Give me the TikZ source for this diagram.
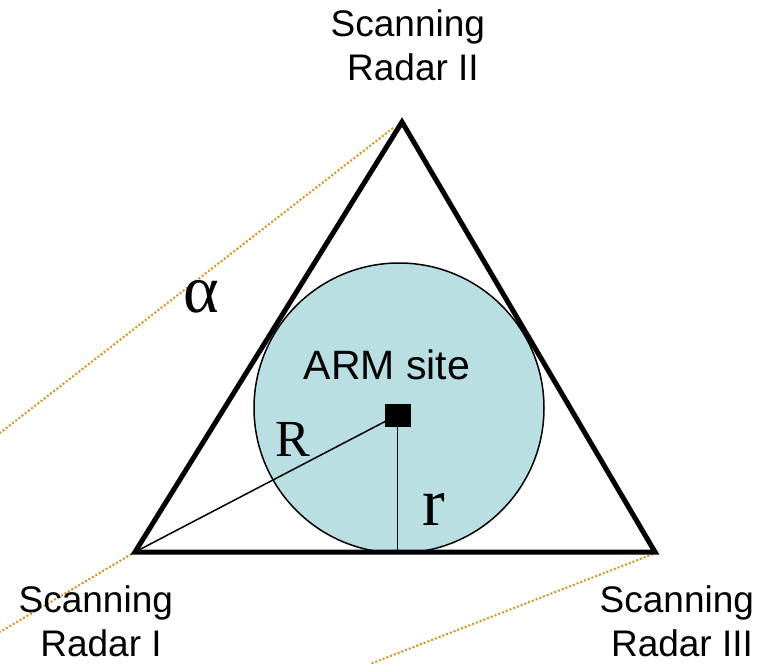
\documentclass[tikz,border=0pt]{standalone}
\usepackage{fontspec}
\setmainfont{Liberation Sans}
\newfontfamily\serifgreek{Liberation Serif}
\definecolor{sitefill}{RGB}{186,223,227}
\definecolor{beamorange}{RGB}{218,146,28}
\begin{document}
\begin{tikzpicture}[x=1pt,y=-1pt,
  radarlabel/.style={inner sep=0pt,anchor=north,align=center,font=\fontsize{37}{44}\selectfont},
  triedge/.style={line width=5pt,line join=miter},
  thinline/.style={line width=1.5pt},
  beam/.style={beamorange,line width=2pt,dash pattern=on 2pt off 2pt},
  serifsym/.style={inner sep=0pt,anchor=base,font=\serifgreek\fontsize{#1}{#1}\selectfont}]
\useasboundingbox (0,0) rectangle (769,664);
% vertices
\coordinate (v2) at (402,122);
\coordinate (v1) at (135,552);
\coordinate (v3) at (655,552);
\coordinate (foot) at (397.5,552);
% beam free ends
\coordinate (b2s) at (393,128);
\coordinate (b2e) at (0,433);
\coordinate (b1e) at (0,632);
\coordinate (b3s) at (653,554);
\coordinate (b3e) at (370,664);
% circle
\node[circle,draw,line width=1.5pt,fill=sitefill,minimum size=290pt,inner sep=0pt] (site) at (399,408) {};
% beams
\draw[beam] (b2s) -- (b2e);
\draw[beam] (v1) -- (b1e);
\draw[beam] (b3s) -- (b3e);
% triangle
\draw[triedge] (v1) -- (v2) -- (v3) -- cycle;
% centre square
\node[fill=black,minimum width=26pt,minimum height=23pt,inner sep=0pt] (arm) at (397.5,415) {};
\draw[thinline] (v1) -- (arm.center);
\draw[thinline] (arm.south) -- (foot);
% labels
\node[inner sep=0pt,anchor=base,font=\fontsize{41}{41}\selectfont] (armlabel) at (387,379) {ARM site};
\node[serifsym=52] (Rlabel) at (293,456) {R};
\node[serifsym=68] (rlabel) at (434,525) {r};
\node[serifsym=68] (alpha) at (201,312) {α};
\node[radarlabel] (r2) at (413,9) {Scanning\kern0.28em\\Radar II};
\node[radarlabel] (r1) at (101,585) {Scanning\kern0.28em\\Radar I};
\node[radarlabel] (r3) at (682,585) {Scanning\kern0.28em\\Radar III};
\end{tikzpicture}
\end{document}
